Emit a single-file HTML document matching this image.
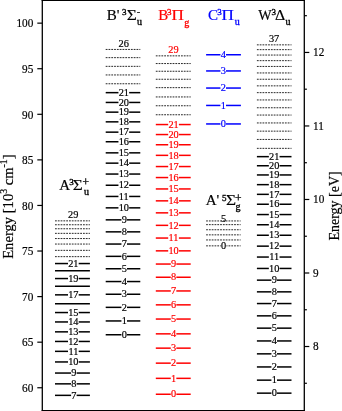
<!DOCTYPE html>
<html><head><meta charset="utf-8"><style>
html,body{margin:0;padding:0;background:#fff;}
body{width:342px;height:411px;overflow:hidden;}
svg{display:block;will-change:transform;}
text{font-family:"Liberation Serif", serif;stroke-width:0.2;}
</style></head><body>
<svg width="342" height="411" viewBox="0 0 342 411">
<g font-family='"Liberation Serif", serif' font-size="11.0">
<line x1="55.0" y1="395.35" x2="71.08" y2="395.35" stroke="#000000" stroke-width="1.5"/>
<line x1="76.62" y1="395.35" x2="89.9" y2="395.35" stroke="#000000" stroke-width="1.5"/>
<text transform="translate(73.85,398.55) scale(0.94,1)" fill="#000000" stroke="#000000" text-anchor="middle">7</text>
<line x1="55.0" y1="383.85" x2="71.08" y2="383.85" stroke="#000000" stroke-width="1.5"/>
<line x1="76.62" y1="383.85" x2="89.9" y2="383.85" stroke="#000000" stroke-width="1.5"/>
<text transform="translate(73.85,387.05) scale(0.94,1)" fill="#000000" stroke="#000000" text-anchor="middle">8</text>
<line x1="55.0" y1="373.05" x2="71.08" y2="373.05" stroke="#000000" stroke-width="1.5"/>
<line x1="76.62" y1="373.05" x2="89.9" y2="373.05" stroke="#000000" stroke-width="1.5"/>
<text transform="translate(73.85,376.25) scale(0.94,1)" fill="#000000" stroke="#000000" text-anchor="middle">9</text>
<line x1="55.0" y1="361.95" x2="68.00" y2="361.95" stroke="#000000" stroke-width="1.5"/>
<line x1="78.70" y1="361.95" x2="89.9" y2="361.95" stroke="#000000" stroke-width="1.5"/>
<text transform="translate(73.35,365.15) scale(0.94,1)" fill="#000000" stroke="#000000" text-anchor="middle">10</text>
<line x1="55.0" y1="351.35" x2="68.00" y2="351.35" stroke="#000000" stroke-width="1.5"/>
<line x1="78.70" y1="351.35" x2="89.9" y2="351.35" stroke="#000000" stroke-width="1.5"/>
<text transform="translate(73.35,354.55) scale(0.94,1)" fill="#000000" stroke="#000000" text-anchor="middle">11</text>
<line x1="55.0" y1="341.45" x2="68.00" y2="341.45" stroke="#000000" stroke-width="1.5"/>
<line x1="78.70" y1="341.45" x2="89.9" y2="341.45" stroke="#000000" stroke-width="1.5"/>
<text transform="translate(73.35,344.65) scale(0.94,1)" fill="#000000" stroke="#000000" text-anchor="middle">12</text>
<line x1="55.0" y1="331.85" x2="68.00" y2="331.85" stroke="#000000" stroke-width="1.5"/>
<line x1="78.70" y1="331.85" x2="89.9" y2="331.85" stroke="#000000" stroke-width="1.5"/>
<text transform="translate(73.35,335.05) scale(0.94,1)" fill="#000000" stroke="#000000" text-anchor="middle">13</text>
<line x1="55.0" y1="321.95" x2="68.00" y2="321.95" stroke="#000000" stroke-width="1.5"/>
<line x1="78.70" y1="321.95" x2="89.9" y2="321.95" stroke="#000000" stroke-width="1.5"/>
<text transform="translate(73.35,325.15) scale(0.94,1)" fill="#000000" stroke="#000000" text-anchor="middle">14</text>
<line x1="55.0" y1="312.55" x2="68.00" y2="312.55" stroke="#000000" stroke-width="1.5"/>
<line x1="78.70" y1="312.55" x2="89.9" y2="312.55" stroke="#000000" stroke-width="1.5"/>
<text transform="translate(73.35,315.75) scale(0.94,1)" fill="#000000" stroke="#000000" text-anchor="middle">15</text>
<line x1="55.0" y1="303.75" x2="89.9" y2="303.75" stroke="#000000" stroke-width="1.5"/>
<line x1="55.0" y1="294.85" x2="68.00" y2="294.85" stroke="#000000" stroke-width="1.5"/>
<line x1="78.70" y1="294.85" x2="89.9" y2="294.85" stroke="#000000" stroke-width="1.5"/>
<text transform="translate(73.35,298.05) scale(0.94,1)" fill="#000000" stroke="#000000" text-anchor="middle">17</text>
<line x1="55.0" y1="286.25" x2="89.9" y2="286.25" stroke="#000000" stroke-width="1.5"/>
<line x1="55.0" y1="278.55" x2="68.00" y2="278.55" stroke="#000000" stroke-width="1.5"/>
<line x1="78.70" y1="278.55" x2="89.9" y2="278.55" stroke="#000000" stroke-width="1.5"/>
<text transform="translate(73.35,281.75) scale(0.94,1)" fill="#000000" stroke="#000000" text-anchor="middle">19</text>
<line x1="55.0" y1="270.85" x2="89.9" y2="270.85" stroke="#000000" stroke-width="1.5"/>
<line x1="55.0" y1="263.55" x2="68.00" y2="263.55" stroke="#000000" stroke-width="1.5"/>
<line x1="78.70" y1="263.55" x2="89.9" y2="263.55" stroke="#000000" stroke-width="1.5"/>
<text transform="translate(73.35,266.75) scale(0.94,1)" fill="#000000" stroke="#000000" text-anchor="middle">21</text>
<line x1="55.0" y1="256.65" x2="89.9" y2="256.65" stroke="#000000" stroke-width="0.85" stroke-dasharray="1.8 1.0"/>
<line x1="55.0" y1="250.35" x2="89.9" y2="250.35" stroke="#000000" stroke-width="0.85" stroke-dasharray="1.8 1.0"/>
<line x1="55.0" y1="244.05" x2="89.9" y2="244.05" stroke="#000000" stroke-width="0.85" stroke-dasharray="1.8 1.0"/>
<line x1="55.0" y1="238.55" x2="89.9" y2="238.55" stroke="#000000" stroke-width="0.85" stroke-dasharray="1.8 1.0"/>
<line x1="55.0" y1="233.35" x2="89.9" y2="233.35" stroke="#000000" stroke-width="0.85" stroke-dasharray="1.8 1.0"/>
<line x1="55.0" y1="228.75" x2="89.9" y2="228.75" stroke="#000000" stroke-width="0.85" stroke-dasharray="1.8 1.0"/>
<line x1="55.0" y1="224.75" x2="89.9" y2="224.75" stroke="#000000" stroke-width="0.85" stroke-dasharray="1.8 1.0"/>
<line x1="55.0" y1="220.85" x2="89.9" y2="220.85" stroke="#000000" stroke-width="0.85" stroke-dasharray="1.8 1.0"/>
<text transform="translate(73.25,218.45) scale(0.94,1)" fill="#000000" stroke="#000000" text-anchor="middle">29</text>
<line x1="105.7" y1="334.75" x2="121.43" y2="334.75" stroke="#000000" stroke-width="1.5"/>
<line x1="126.97" y1="334.75" x2="140.3" y2="334.75" stroke="#000000" stroke-width="1.5"/>
<text transform="translate(124.20,337.95) scale(0.94,1)" fill="#000000" stroke="#000000" text-anchor="middle">0</text>
<line x1="105.7" y1="320.95" x2="121.43" y2="320.95" stroke="#000000" stroke-width="1.5"/>
<line x1="126.97" y1="320.95" x2="140.3" y2="320.95" stroke="#000000" stroke-width="1.5"/>
<text transform="translate(124.20,324.15) scale(0.94,1)" fill="#000000" stroke="#000000" text-anchor="middle">1</text>
<line x1="105.7" y1="307.35" x2="121.43" y2="307.35" stroke="#000000" stroke-width="1.5"/>
<line x1="126.97" y1="307.35" x2="140.3" y2="307.35" stroke="#000000" stroke-width="1.5"/>
<text transform="translate(124.20,310.55) scale(0.94,1)" fill="#000000" stroke="#000000" text-anchor="middle">2</text>
<line x1="105.7" y1="294.25" x2="121.43" y2="294.25" stroke="#000000" stroke-width="1.5"/>
<line x1="126.97" y1="294.25" x2="140.3" y2="294.25" stroke="#000000" stroke-width="1.5"/>
<text transform="translate(124.20,297.45) scale(0.94,1)" fill="#000000" stroke="#000000" text-anchor="middle">3</text>
<line x1="105.7" y1="281.55" x2="121.43" y2="281.55" stroke="#000000" stroke-width="1.5"/>
<line x1="126.97" y1="281.55" x2="140.3" y2="281.55" stroke="#000000" stroke-width="1.5"/>
<text transform="translate(124.20,284.75) scale(0.94,1)" fill="#000000" stroke="#000000" text-anchor="middle">4</text>
<line x1="105.7" y1="268.75" x2="121.43" y2="268.75" stroke="#000000" stroke-width="1.5"/>
<line x1="126.97" y1="268.75" x2="140.3" y2="268.75" stroke="#000000" stroke-width="1.5"/>
<text transform="translate(124.20,271.95) scale(0.94,1)" fill="#000000" stroke="#000000" text-anchor="middle">5</text>
<line x1="105.7" y1="256.35" x2="121.43" y2="256.35" stroke="#000000" stroke-width="1.5"/>
<line x1="126.97" y1="256.35" x2="140.3" y2="256.35" stroke="#000000" stroke-width="1.5"/>
<text transform="translate(124.20,259.55) scale(0.94,1)" fill="#000000" stroke="#000000" text-anchor="middle">6</text>
<line x1="105.7" y1="244.05" x2="121.43" y2="244.05" stroke="#000000" stroke-width="1.5"/>
<line x1="126.97" y1="244.05" x2="140.3" y2="244.05" stroke="#000000" stroke-width="1.5"/>
<text transform="translate(124.20,247.25) scale(0.94,1)" fill="#000000" stroke="#000000" text-anchor="middle">7</text>
<line x1="105.7" y1="231.85" x2="121.43" y2="231.85" stroke="#000000" stroke-width="1.5"/>
<line x1="126.97" y1="231.85" x2="140.3" y2="231.85" stroke="#000000" stroke-width="1.5"/>
<text transform="translate(124.20,235.05) scale(0.94,1)" fill="#000000" stroke="#000000" text-anchor="middle">8</text>
<line x1="105.7" y1="219.85" x2="121.43" y2="219.85" stroke="#000000" stroke-width="1.5"/>
<line x1="126.97" y1="219.85" x2="140.3" y2="219.85" stroke="#000000" stroke-width="1.5"/>
<text transform="translate(124.20,223.05) scale(0.94,1)" fill="#000000" stroke="#000000" text-anchor="middle">9</text>
<line x1="105.7" y1="207.85" x2="118.45" y2="207.85" stroke="#000000" stroke-width="1.5"/>
<line x1="129.15" y1="207.85" x2="140.3" y2="207.85" stroke="#000000" stroke-width="1.5"/>
<text transform="translate(123.80,211.05) scale(0.94,1)" fill="#000000" stroke="#000000" text-anchor="middle">10</text>
<line x1="105.7" y1="196.45" x2="118.45" y2="196.45" stroke="#000000" stroke-width="1.5"/>
<line x1="129.15" y1="196.45" x2="140.3" y2="196.45" stroke="#000000" stroke-width="1.5"/>
<text transform="translate(123.80,199.65) scale(0.94,1)" fill="#000000" stroke="#000000" text-anchor="middle">11</text>
<line x1="105.7" y1="185.25" x2="118.45" y2="185.25" stroke="#000000" stroke-width="1.5"/>
<line x1="129.15" y1="185.25" x2="140.3" y2="185.25" stroke="#000000" stroke-width="1.5"/>
<text transform="translate(123.80,188.45) scale(0.94,1)" fill="#000000" stroke="#000000" text-anchor="middle">12</text>
<line x1="105.7" y1="174.05" x2="118.45" y2="174.05" stroke="#000000" stroke-width="1.5"/>
<line x1="129.15" y1="174.05" x2="140.3" y2="174.05" stroke="#000000" stroke-width="1.5"/>
<text transform="translate(123.80,177.25) scale(0.94,1)" fill="#000000" stroke="#000000" text-anchor="middle">13</text>
<line x1="105.7" y1="163.15" x2="118.45" y2="163.15" stroke="#000000" stroke-width="1.5"/>
<line x1="129.15" y1="163.15" x2="140.3" y2="163.15" stroke="#000000" stroke-width="1.5"/>
<text transform="translate(123.80,166.35) scale(0.94,1)" fill="#000000" stroke="#000000" text-anchor="middle">14</text>
<line x1="105.7" y1="152.85" x2="118.45" y2="152.85" stroke="#000000" stroke-width="1.5"/>
<line x1="129.15" y1="152.85" x2="140.3" y2="152.85" stroke="#000000" stroke-width="1.5"/>
<text transform="translate(123.80,156.05) scale(0.94,1)" fill="#000000" stroke="#000000" text-anchor="middle">15</text>
<line x1="105.7" y1="141.75" x2="118.45" y2="141.75" stroke="#000000" stroke-width="1.5"/>
<line x1="129.15" y1="141.75" x2="140.3" y2="141.75" stroke="#000000" stroke-width="1.5"/>
<text transform="translate(123.80,144.95) scale(0.94,1)" fill="#000000" stroke="#000000" text-anchor="middle">16</text>
<line x1="105.7" y1="132.15" x2="118.45" y2="132.15" stroke="#000000" stroke-width="1.5"/>
<line x1="129.15" y1="132.15" x2="140.3" y2="132.15" stroke="#000000" stroke-width="1.5"/>
<text transform="translate(123.80,135.35) scale(0.94,1)" fill="#000000" stroke="#000000" text-anchor="middle">17</text>
<line x1="105.7" y1="121.85" x2="118.45" y2="121.85" stroke="#000000" stroke-width="1.5"/>
<line x1="129.15" y1="121.85" x2="140.3" y2="121.85" stroke="#000000" stroke-width="1.5"/>
<text transform="translate(123.80,125.05) scale(0.94,1)" fill="#000000" stroke="#000000" text-anchor="middle">18</text>
<line x1="105.7" y1="112.15" x2="118.45" y2="112.15" stroke="#000000" stroke-width="1.5"/>
<line x1="129.15" y1="112.15" x2="140.3" y2="112.15" stroke="#000000" stroke-width="1.5"/>
<text transform="translate(123.80,115.35) scale(0.94,1)" fill="#000000" stroke="#000000" text-anchor="middle">19</text>
<line x1="105.7" y1="102.45" x2="118.45" y2="102.45" stroke="#000000" stroke-width="1.5"/>
<line x1="129.15" y1="102.45" x2="140.3" y2="102.45" stroke="#000000" stroke-width="1.5"/>
<text transform="translate(123.80,105.65) scale(0.94,1)" fill="#000000" stroke="#000000" text-anchor="middle">20</text>
<line x1="105.7" y1="92.65" x2="118.45" y2="92.65" stroke="#000000" stroke-width="1.5"/>
<line x1="129.15" y1="92.65" x2="140.3" y2="92.65" stroke="#000000" stroke-width="1.5"/>
<text transform="translate(123.80,95.85) scale(0.94,1)" fill="#000000" stroke="#000000" text-anchor="middle">21</text>
<line x1="105.7" y1="83.75" x2="140.3" y2="83.75" stroke="#000000" stroke-width="0.85" stroke-dasharray="1.8 1.0"/>
<line x1="105.7" y1="74.95" x2="140.3" y2="74.95" stroke="#000000" stroke-width="0.85" stroke-dasharray="1.8 1.0"/>
<line x1="105.7" y1="66.35" x2="140.3" y2="66.35" stroke="#000000" stroke-width="0.85" stroke-dasharray="1.8 1.0"/>
<line x1="105.7" y1="57.65" x2="140.3" y2="57.65" stroke="#000000" stroke-width="0.85" stroke-dasharray="1.8 1.0"/>
<line x1="105.7" y1="49.45" x2="140.3" y2="49.45" stroke="#000000" stroke-width="0.85" stroke-dasharray="1.8 1.0"/>
<text transform="translate(123.70,47.05) scale(0.94,1)" fill="#000000" stroke="#000000" text-anchor="middle">26</text>
<line x1="155.8" y1="394.25" x2="170.78" y2="394.25" stroke="#ff0000" stroke-width="1.5"/>
<line x1="176.32" y1="394.25" x2="190.7" y2="394.25" stroke="#ff0000" stroke-width="1.5"/>
<text transform="translate(173.55,397.45) scale(0.94,1)" fill="#ff0000" stroke="#ff0000" text-anchor="middle">0</text>
<line x1="155.8" y1="378.35" x2="170.78" y2="378.35" stroke="#ff0000" stroke-width="1.5"/>
<line x1="176.32" y1="378.35" x2="190.7" y2="378.35" stroke="#ff0000" stroke-width="1.5"/>
<text transform="translate(173.55,381.55) scale(0.94,1)" fill="#ff0000" stroke="#ff0000" text-anchor="middle">1</text>
<line x1="155.8" y1="363.15" x2="170.78" y2="363.15" stroke="#ff0000" stroke-width="1.5"/>
<line x1="176.32" y1="363.15" x2="190.7" y2="363.15" stroke="#ff0000" stroke-width="1.5"/>
<text transform="translate(173.55,366.35) scale(0.94,1)" fill="#ff0000" stroke="#ff0000" text-anchor="middle">2</text>
<line x1="155.8" y1="348.15" x2="170.78" y2="348.15" stroke="#ff0000" stroke-width="1.5"/>
<line x1="176.32" y1="348.15" x2="190.7" y2="348.15" stroke="#ff0000" stroke-width="1.5"/>
<text transform="translate(173.55,351.35) scale(0.94,1)" fill="#ff0000" stroke="#ff0000" text-anchor="middle">3</text>
<line x1="155.8" y1="333.85" x2="170.78" y2="333.85" stroke="#ff0000" stroke-width="1.5"/>
<line x1="176.32" y1="333.85" x2="190.7" y2="333.85" stroke="#ff0000" stroke-width="1.5"/>
<text transform="translate(173.55,337.05) scale(0.94,1)" fill="#ff0000" stroke="#ff0000" text-anchor="middle">4</text>
<line x1="155.8" y1="319.05" x2="170.78" y2="319.05" stroke="#ff0000" stroke-width="1.5"/>
<line x1="176.32" y1="319.05" x2="190.7" y2="319.05" stroke="#ff0000" stroke-width="1.5"/>
<text transform="translate(173.55,322.25) scale(0.94,1)" fill="#ff0000" stroke="#ff0000" text-anchor="middle">5</text>
<line x1="155.8" y1="304.85" x2="170.78" y2="304.85" stroke="#ff0000" stroke-width="1.5"/>
<line x1="176.32" y1="304.85" x2="190.7" y2="304.85" stroke="#ff0000" stroke-width="1.5"/>
<text transform="translate(173.55,308.05) scale(0.94,1)" fill="#ff0000" stroke="#ff0000" text-anchor="middle">6</text>
<line x1="155.8" y1="290.95" x2="170.78" y2="290.95" stroke="#ff0000" stroke-width="1.5"/>
<line x1="176.32" y1="290.95" x2="190.7" y2="290.95" stroke="#ff0000" stroke-width="1.5"/>
<text transform="translate(173.55,294.15) scale(0.94,1)" fill="#ff0000" stroke="#ff0000" text-anchor="middle">7</text>
<line x1="155.8" y1="277.25" x2="170.78" y2="277.25" stroke="#ff0000" stroke-width="1.5"/>
<line x1="176.32" y1="277.25" x2="190.7" y2="277.25" stroke="#ff0000" stroke-width="1.5"/>
<text transform="translate(173.55,280.45) scale(0.94,1)" fill="#ff0000" stroke="#ff0000" text-anchor="middle">8</text>
<line x1="155.8" y1="264.05" x2="170.78" y2="264.05" stroke="#ff0000" stroke-width="1.5"/>
<line x1="176.32" y1="264.05" x2="190.7" y2="264.05" stroke="#ff0000" stroke-width="1.5"/>
<text transform="translate(173.55,267.25) scale(0.94,1)" fill="#ff0000" stroke="#ff0000" text-anchor="middle">9</text>
<line x1="155.8" y1="250.85" x2="168.20" y2="250.85" stroke="#ff0000" stroke-width="1.5"/>
<line x1="178.90" y1="250.85" x2="190.7" y2="250.85" stroke="#ff0000" stroke-width="1.5"/>
<text transform="translate(173.55,254.05) scale(0.94,1)" fill="#ff0000" stroke="#ff0000" text-anchor="middle">10</text>
<line x1="155.8" y1="238.05" x2="168.20" y2="238.05" stroke="#ff0000" stroke-width="1.5"/>
<line x1="178.90" y1="238.05" x2="190.7" y2="238.05" stroke="#ff0000" stroke-width="1.5"/>
<text transform="translate(173.55,241.25) scale(0.94,1)" fill="#ff0000" stroke="#ff0000" text-anchor="middle">11</text>
<line x1="155.8" y1="225.35" x2="168.20" y2="225.35" stroke="#ff0000" stroke-width="1.5"/>
<line x1="178.90" y1="225.35" x2="190.7" y2="225.35" stroke="#ff0000" stroke-width="1.5"/>
<text transform="translate(173.55,228.55) scale(0.94,1)" fill="#ff0000" stroke="#ff0000" text-anchor="middle">12</text>
<line x1="155.8" y1="212.85" x2="168.20" y2="212.85" stroke="#ff0000" stroke-width="1.5"/>
<line x1="178.90" y1="212.85" x2="190.7" y2="212.85" stroke="#ff0000" stroke-width="1.5"/>
<text transform="translate(173.55,216.05) scale(0.94,1)" fill="#ff0000" stroke="#ff0000" text-anchor="middle">13</text>
<line x1="155.8" y1="200.85" x2="168.20" y2="200.85" stroke="#ff0000" stroke-width="1.5"/>
<line x1="178.90" y1="200.85" x2="190.7" y2="200.85" stroke="#ff0000" stroke-width="1.5"/>
<text transform="translate(173.55,204.05) scale(0.94,1)" fill="#ff0000" stroke="#ff0000" text-anchor="middle">14</text>
<line x1="155.8" y1="188.95" x2="168.20" y2="188.95" stroke="#ff0000" stroke-width="1.5"/>
<line x1="178.90" y1="188.95" x2="190.7" y2="188.95" stroke="#ff0000" stroke-width="1.5"/>
<text transform="translate(173.55,192.15) scale(0.94,1)" fill="#ff0000" stroke="#ff0000" text-anchor="middle">15</text>
<line x1="155.8" y1="177.55" x2="168.20" y2="177.55" stroke="#ff0000" stroke-width="1.5"/>
<line x1="178.90" y1="177.55" x2="190.7" y2="177.55" stroke="#ff0000" stroke-width="1.5"/>
<text transform="translate(173.55,180.75) scale(0.94,1)" fill="#ff0000" stroke="#ff0000" text-anchor="middle">16</text>
<line x1="155.8" y1="166.55" x2="168.20" y2="166.55" stroke="#ff0000" stroke-width="1.5"/>
<line x1="178.90" y1="166.55" x2="190.7" y2="166.55" stroke="#ff0000" stroke-width="1.5"/>
<text transform="translate(173.55,169.75) scale(0.94,1)" fill="#ff0000" stroke="#ff0000" text-anchor="middle">17</text>
<line x1="155.8" y1="155.35" x2="168.20" y2="155.35" stroke="#ff0000" stroke-width="1.5"/>
<line x1="178.90" y1="155.35" x2="190.7" y2="155.35" stroke="#ff0000" stroke-width="1.5"/>
<text transform="translate(173.55,158.55) scale(0.94,1)" fill="#ff0000" stroke="#ff0000" text-anchor="middle">18</text>
<line x1="155.8" y1="144.75" x2="168.20" y2="144.75" stroke="#ff0000" stroke-width="1.5"/>
<line x1="178.90" y1="144.75" x2="190.7" y2="144.75" stroke="#ff0000" stroke-width="1.5"/>
<text transform="translate(173.55,147.95) scale(0.94,1)" fill="#ff0000" stroke="#ff0000" text-anchor="middle">19</text>
<line x1="155.8" y1="134.55" x2="168.20" y2="134.55" stroke="#ff0000" stroke-width="1.5"/>
<line x1="178.90" y1="134.55" x2="190.7" y2="134.55" stroke="#ff0000" stroke-width="1.5"/>
<text transform="translate(173.55,137.75) scale(0.94,1)" fill="#ff0000" stroke="#ff0000" text-anchor="middle">20</text>
<line x1="155.8" y1="124.55" x2="168.20" y2="124.55" stroke="#ff0000" stroke-width="1.5"/>
<line x1="178.90" y1="124.55" x2="190.7" y2="124.55" stroke="#ff0000" stroke-width="1.5"/>
<text transform="translate(173.55,127.75) scale(0.94,1)" fill="#ff0000" stroke="#ff0000" text-anchor="middle">21</text>
<line x1="155.8" y1="114.75" x2="190.7" y2="114.75" stroke="#000000" stroke-width="0.85" stroke-dasharray="1.8 1.0"/>
<line x1="155.8" y1="105.75" x2="190.7" y2="105.75" stroke="#000000" stroke-width="0.85" stroke-dasharray="1.8 1.0"/>
<line x1="155.8" y1="96.95" x2="190.7" y2="96.95" stroke="#000000" stroke-width="0.85" stroke-dasharray="1.8 1.0"/>
<line x1="155.8" y1="87.65" x2="190.7" y2="87.65" stroke="#000000" stroke-width="0.85" stroke-dasharray="1.8 1.0"/>
<line x1="155.8" y1="79.25" x2="190.7" y2="79.25" stroke="#000000" stroke-width="0.85" stroke-dasharray="1.8 1.0"/>
<line x1="155.8" y1="71.25" x2="190.7" y2="71.25" stroke="#000000" stroke-width="0.85" stroke-dasharray="1.8 1.0"/>
<line x1="155.8" y1="63.55" x2="190.7" y2="63.55" stroke="#000000" stroke-width="0.85" stroke-dasharray="1.8 1.0"/>
<line x1="155.8" y1="55.85" x2="190.7" y2="55.85" stroke="#000000" stroke-width="0.85" stroke-dasharray="1.8 1.0"/>
<text transform="translate(173.45,53.45) scale(0.94,1)" fill="#ff0000" stroke="#ff0000" text-anchor="middle">29</text>
<line x1="206.1" y1="123.95" x2="220.43" y2="123.95" stroke="#0000ff" stroke-width="1.5"/>
<line x1="225.97" y1="123.95" x2="240.9" y2="123.95" stroke="#0000ff" stroke-width="1.5"/>
<text transform="translate(223.20,127.15) scale(0.94,1)" fill="#0000ff" stroke="#0000ff" text-anchor="middle">0</text>
<line x1="206.1" y1="105.45" x2="220.43" y2="105.45" stroke="#0000ff" stroke-width="1.5"/>
<line x1="225.97" y1="105.45" x2="240.9" y2="105.45" stroke="#0000ff" stroke-width="1.5"/>
<text transform="translate(223.20,108.65) scale(0.94,1)" fill="#0000ff" stroke="#0000ff" text-anchor="middle">1</text>
<line x1="206.1" y1="88.05" x2="220.43" y2="88.05" stroke="#0000ff" stroke-width="1.5"/>
<line x1="225.97" y1="88.05" x2="240.9" y2="88.05" stroke="#0000ff" stroke-width="1.5"/>
<text transform="translate(223.20,91.25) scale(0.94,1)" fill="#0000ff" stroke="#0000ff" text-anchor="middle">2</text>
<line x1="206.1" y1="70.95" x2="220.43" y2="70.95" stroke="#0000ff" stroke-width="1.5"/>
<line x1="225.97" y1="70.95" x2="240.9" y2="70.95" stroke="#0000ff" stroke-width="1.5"/>
<text transform="translate(223.20,74.15) scale(0.94,1)" fill="#0000ff" stroke="#0000ff" text-anchor="middle">3</text>
<line x1="206.1" y1="54.75" x2="220.43" y2="54.75" stroke="#0000ff" stroke-width="1.5"/>
<line x1="225.97" y1="54.75" x2="240.9" y2="54.75" stroke="#0000ff" stroke-width="1.5"/>
<text transform="translate(223.20,57.95) scale(0.94,1)" fill="#0000ff" stroke="#0000ff" text-anchor="middle">4</text>
<line x1="206.1" y1="245.85" x2="240.6" y2="245.85" stroke="#000000" stroke-width="0.85" stroke-dasharray="1.8 1.0"/>
<rect x="220.88" y="244.85" width="5.54" height="2" fill="#fff"/>
<text transform="translate(223.65,249.05) scale(0.94,1)" fill="#000000" stroke="#000000" text-anchor="middle">0</text>
<line x1="206.1" y1="239.95" x2="240.6" y2="239.95" stroke="#000000" stroke-width="0.85" stroke-dasharray="1.8 1.0"/>
<line x1="206.1" y1="234.85" x2="240.6" y2="234.85" stroke="#000000" stroke-width="0.85" stroke-dasharray="1.8 1.0"/>
<line x1="206.1" y1="229.75" x2="240.6" y2="229.75" stroke="#000000" stroke-width="0.85" stroke-dasharray="1.8 1.0"/>
<line x1="206.1" y1="224.65" x2="240.6" y2="224.65" stroke="#000000" stroke-width="0.85" stroke-dasharray="1.8 1.0"/>
<line x1="206.1" y1="220.95" x2="240.6" y2="220.95" stroke="#000000" stroke-width="0.85" stroke-dasharray="1.8 1.0"/>
<text transform="translate(223.55,221.60) scale(0.94,1)" fill="#000000" stroke="#000000" text-anchor="middle">5</text>
<line x1="256.9" y1="393.15" x2="271.43" y2="393.15" stroke="#000000" stroke-width="1.5"/>
<line x1="276.97" y1="393.15" x2="291.5" y2="393.15" stroke="#000000" stroke-width="1.5"/>
<text transform="translate(274.20,396.35) scale(0.94,1)" fill="#000000" stroke="#000000" text-anchor="middle">0</text>
<line x1="256.9" y1="380.15" x2="271.43" y2="380.15" stroke="#000000" stroke-width="1.5"/>
<line x1="276.97" y1="380.15" x2="291.5" y2="380.15" stroke="#000000" stroke-width="1.5"/>
<text transform="translate(274.20,383.35) scale(0.94,1)" fill="#000000" stroke="#000000" text-anchor="middle">1</text>
<line x1="256.9" y1="366.95" x2="271.43" y2="366.95" stroke="#000000" stroke-width="1.5"/>
<line x1="276.97" y1="366.95" x2="291.5" y2="366.95" stroke="#000000" stroke-width="1.5"/>
<text transform="translate(274.20,370.15) scale(0.94,1)" fill="#000000" stroke="#000000" text-anchor="middle">2</text>
<line x1="256.9" y1="353.85" x2="271.43" y2="353.85" stroke="#000000" stroke-width="1.5"/>
<line x1="276.97" y1="353.85" x2="291.5" y2="353.85" stroke="#000000" stroke-width="1.5"/>
<text transform="translate(274.20,357.05) scale(0.94,1)" fill="#000000" stroke="#000000" text-anchor="middle">3</text>
<line x1="256.9" y1="340.95" x2="271.43" y2="340.95" stroke="#000000" stroke-width="1.5"/>
<line x1="276.97" y1="340.95" x2="291.5" y2="340.95" stroke="#000000" stroke-width="1.5"/>
<text transform="translate(274.20,344.15) scale(0.94,1)" fill="#000000" stroke="#000000" text-anchor="middle">4</text>
<line x1="256.9" y1="328.15" x2="271.43" y2="328.15" stroke="#000000" stroke-width="1.5"/>
<line x1="276.97" y1="328.15" x2="291.5" y2="328.15" stroke="#000000" stroke-width="1.5"/>
<text transform="translate(274.20,331.35) scale(0.94,1)" fill="#000000" stroke="#000000" text-anchor="middle">5</text>
<line x1="256.9" y1="315.85" x2="271.43" y2="315.85" stroke="#000000" stroke-width="1.5"/>
<line x1="276.97" y1="315.85" x2="291.5" y2="315.85" stroke="#000000" stroke-width="1.5"/>
<text transform="translate(274.20,319.05) scale(0.94,1)" fill="#000000" stroke="#000000" text-anchor="middle">6</text>
<line x1="256.9" y1="303.55" x2="271.43" y2="303.55" stroke="#000000" stroke-width="1.5"/>
<line x1="276.97" y1="303.55" x2="291.5" y2="303.55" stroke="#000000" stroke-width="1.5"/>
<text transform="translate(274.20,306.75) scale(0.94,1)" fill="#000000" stroke="#000000" text-anchor="middle">7</text>
<line x1="256.9" y1="291.85" x2="271.43" y2="291.85" stroke="#000000" stroke-width="1.5"/>
<line x1="276.97" y1="291.85" x2="291.5" y2="291.85" stroke="#000000" stroke-width="1.5"/>
<text transform="translate(274.20,295.05) scale(0.94,1)" fill="#000000" stroke="#000000" text-anchor="middle">8</text>
<line x1="256.9" y1="280.15" x2="271.43" y2="280.15" stroke="#000000" stroke-width="1.5"/>
<line x1="276.97" y1="280.15" x2="291.5" y2="280.15" stroke="#000000" stroke-width="1.5"/>
<text transform="translate(274.20,283.35) scale(0.94,1)" fill="#000000" stroke="#000000" text-anchor="middle">9</text>
<line x1="256.9" y1="268.45" x2="268.85" y2="268.45" stroke="#000000" stroke-width="1.5"/>
<line x1="279.55" y1="268.45" x2="291.5" y2="268.45" stroke="#000000" stroke-width="1.5"/>
<text transform="translate(274.20,271.65) scale(0.94,1)" fill="#000000" stroke="#000000" text-anchor="middle">10</text>
<line x1="256.9" y1="257.05" x2="268.85" y2="257.05" stroke="#000000" stroke-width="1.5"/>
<line x1="279.55" y1="257.05" x2="291.5" y2="257.05" stroke="#000000" stroke-width="1.5"/>
<text transform="translate(274.20,260.25) scale(0.94,1)" fill="#000000" stroke="#000000" text-anchor="middle">11</text>
<line x1="256.9" y1="246.15" x2="268.85" y2="246.15" stroke="#000000" stroke-width="1.5"/>
<line x1="279.55" y1="246.15" x2="291.5" y2="246.15" stroke="#000000" stroke-width="1.5"/>
<text transform="translate(274.20,249.35) scale(0.94,1)" fill="#000000" stroke="#000000" text-anchor="middle">12</text>
<line x1="256.9" y1="235.25" x2="268.85" y2="235.25" stroke="#000000" stroke-width="1.5"/>
<line x1="279.55" y1="235.25" x2="291.5" y2="235.25" stroke="#000000" stroke-width="1.5"/>
<text transform="translate(274.20,238.45) scale(0.94,1)" fill="#000000" stroke="#000000" text-anchor="middle">13</text>
<line x1="256.9" y1="224.75" x2="268.85" y2="224.75" stroke="#000000" stroke-width="1.5"/>
<line x1="279.55" y1="224.75" x2="291.5" y2="224.75" stroke="#000000" stroke-width="1.5"/>
<text transform="translate(274.20,227.95) scale(0.94,1)" fill="#000000" stroke="#000000" text-anchor="middle">14</text>
<line x1="256.9" y1="214.55" x2="268.85" y2="214.55" stroke="#000000" stroke-width="1.5"/>
<line x1="279.55" y1="214.55" x2="291.5" y2="214.55" stroke="#000000" stroke-width="1.5"/>
<text transform="translate(274.20,217.75) scale(0.94,1)" fill="#000000" stroke="#000000" text-anchor="middle">15</text>
<line x1="256.9" y1="204.25" x2="268.85" y2="204.25" stroke="#000000" stroke-width="1.5"/>
<line x1="279.55" y1="204.25" x2="291.5" y2="204.25" stroke="#000000" stroke-width="1.5"/>
<text transform="translate(274.20,207.45) scale(0.94,1)" fill="#000000" stroke="#000000" text-anchor="middle">16</text>
<line x1="256.9" y1="194.35" x2="268.85" y2="194.35" stroke="#000000" stroke-width="1.5"/>
<line x1="279.55" y1="194.35" x2="291.5" y2="194.35" stroke="#000000" stroke-width="1.5"/>
<text transform="translate(274.20,197.55) scale(0.94,1)" fill="#000000" stroke="#000000" text-anchor="middle">17</text>
<line x1="256.9" y1="184.65" x2="268.85" y2="184.65" stroke="#000000" stroke-width="1.5"/>
<line x1="279.55" y1="184.65" x2="291.5" y2="184.65" stroke="#000000" stroke-width="1.5"/>
<text transform="translate(274.20,187.85) scale(0.94,1)" fill="#000000" stroke="#000000" text-anchor="middle">18</text>
<line x1="256.9" y1="174.95" x2="268.85" y2="174.95" stroke="#000000" stroke-width="1.5"/>
<line x1="279.55" y1="174.95" x2="291.5" y2="174.95" stroke="#000000" stroke-width="1.5"/>
<text transform="translate(274.20,178.15) scale(0.94,1)" fill="#000000" stroke="#000000" text-anchor="middle">19</text>
<line x1="256.9" y1="165.75" x2="268.85" y2="165.75" stroke="#000000" stroke-width="1.5"/>
<line x1="279.55" y1="165.75" x2="291.5" y2="165.75" stroke="#000000" stroke-width="1.5"/>
<text transform="translate(274.20,168.95) scale(0.94,1)" fill="#000000" stroke="#000000" text-anchor="middle">20</text>
<line x1="256.9" y1="156.65" x2="268.85" y2="156.65" stroke="#000000" stroke-width="1.5"/>
<line x1="279.55" y1="156.65" x2="291.5" y2="156.65" stroke="#000000" stroke-width="1.5"/>
<text transform="translate(274.20,159.85) scale(0.94,1)" fill="#000000" stroke="#000000" text-anchor="middle">21</text>
<line x1="256.9" y1="148.35" x2="291.5" y2="148.35" stroke="#000000" stroke-width="0.85" stroke-dasharray="1.8 1.0"/>
<line x1="256.9" y1="139.45" x2="291.5" y2="139.45" stroke="#000000" stroke-width="0.85" stroke-dasharray="1.8 1.0"/>
<line x1="256.9" y1="131.15" x2="291.5" y2="131.15" stroke="#000000" stroke-width="0.85" stroke-dasharray="1.8 1.0"/>
<line x1="256.9" y1="122.95" x2="291.5" y2="122.95" stroke="#000000" stroke-width="0.85" stroke-dasharray="1.8 1.0"/>
<line x1="256.9" y1="115.05" x2="291.5" y2="115.05" stroke="#000000" stroke-width="0.85" stroke-dasharray="1.8 1.0"/>
<line x1="256.9" y1="107.75" x2="291.5" y2="107.75" stroke="#000000" stroke-width="0.85" stroke-dasharray="1.8 1.0"/>
<line x1="256.9" y1="99.95" x2="291.5" y2="99.95" stroke="#000000" stroke-width="0.85" stroke-dasharray="1.8 1.0"/>
<line x1="256.9" y1="92.65" x2="291.5" y2="92.65" stroke="#000000" stroke-width="0.85" stroke-dasharray="1.8 1.0"/>
<line x1="256.9" y1="85.85" x2="291.5" y2="85.85" stroke="#000000" stroke-width="0.85" stroke-dasharray="1.8 1.0"/>
<line x1="256.9" y1="79.25" x2="291.5" y2="79.25" stroke="#000000" stroke-width="0.85" stroke-dasharray="1.8 1.0"/>
<line x1="256.9" y1="72.95" x2="291.5" y2="72.95" stroke="#000000" stroke-width="0.85" stroke-dasharray="1.8 1.0"/>
<line x1="256.9" y1="66.45" x2="291.5" y2="66.45" stroke="#000000" stroke-width="0.85" stroke-dasharray="1.8 1.0"/>
<line x1="256.9" y1="60.65" x2="291.5" y2="60.65" stroke="#000000" stroke-width="0.85" stroke-dasharray="1.8 1.0"/>
<line x1="256.9" y1="55.05" x2="291.5" y2="55.05" stroke="#000000" stroke-width="0.85" stroke-dasharray="1.8 1.0"/>
<line x1="256.9" y1="49.65" x2="291.5" y2="49.65" stroke="#000000" stroke-width="0.85" stroke-dasharray="1.8 1.0"/>
<line x1="256.9" y1="44.85" x2="291.5" y2="44.85" stroke="#000000" stroke-width="0.85" stroke-dasharray="1.8 1.0"/>
<text transform="translate(274.10,42.45) scale(0.94,1)" fill="#000000" stroke="#000000" text-anchor="middle">37</text>
</g>
<g font-family='"Liberation Serif", serif'><text x="59.35" y="190.40" font-size="15.0" fill="#000" stroke="#000">A</text>
<text x="69.20" y="184.80" font-size="9.0" fill="#000" stroke="#000" style="stroke-width:0.35">3</text>
<text transform="translate(72.80,190.40) scale(1.14,1)" font-size="15.0" fill="#000" stroke="#000">Σ</text>
<text x="82.40" y="186.00" font-size="11.5" fill="#000" stroke="#000" style="stroke-width:0.35">+</text>
<text x="84.00" y="195.40" font-size="10.0" fill="#000" stroke="#000" style="stroke-width:0.35">u</text>
<text x="106.80" y="20.40" font-size="15.0" fill="#000" stroke="#000">B'</text>
<text x="122.10" y="15.00" font-size="9.0" fill="#000" stroke="#000" style="stroke-width:0.35">3</text>
<text transform="translate(126.80,20.40) scale(1.15,1)" font-size="15.0" fill="#000" stroke="#000">Σ</text>
<text x="136.90" y="14.90" font-size="9.0" fill="#000" stroke="#000" style="stroke-width:0.35">-</text>
<text x="137.00" y="24.60" font-size="10.0" fill="#000" stroke="#000" style="stroke-width:0.35">u</text>
<text x="158.20" y="20.40" font-size="15.0" fill="#ff0000" stroke="#ff0000">B</text>
<text x="167.10" y="14.90" font-size="9.0" fill="#ff0000" stroke="#ff0000" style="stroke-width:0.35">3</text>
<text transform="translate(171.60,20.40) scale(1.14,1)" font-size="15.0" fill="#ff0000" stroke="#ff0000">Π</text>
<text x="184.30" y="25.50" font-size="10.0" fill="#ff0000" stroke="#ff0000" style="stroke-width:0.35">g</text>
<text x="207.90" y="20.40" font-size="15.0" fill="#0000ff" stroke="#0000ff">C</text>
<text x="217.30" y="14.90" font-size="9.0" fill="#0000ff" stroke="#0000ff" style="stroke-width:0.35">3</text>
<text transform="translate(221.40,20.40) scale(1.14,1)" font-size="15.0" fill="#0000ff" stroke="#0000ff">Π</text>
<text x="234.70" y="24.60" font-size="10.0" fill="#0000ff" stroke="#0000ff" style="stroke-width:0.35">u</text>
<text x="205.70" y="204.60" font-size="15.0" fill="#000" stroke="#000">A'</text>
<text x="221.90" y="200.60" font-size="9.0" fill="#000" stroke="#000" style="stroke-width:0.35">5</text>
<text transform="translate(226.00,204.60) scale(1.15,1)" font-size="15.0" fill="#000" stroke="#000">Σ</text>
<text x="235.00" y="201.60" font-size="11.5" fill="#000" stroke="#000" style="stroke-width:0.35">+</text>
<text x="235.50" y="210.00" font-size="10.0" fill="#000" stroke="#000" style="stroke-width:0.35">g</text>
<text transform="translate(258.30,20.40) scale(0.95,1)" font-size="15.0" fill="#000" stroke="#000">W</text>
<text x="271.40" y="14.90" font-size="9.0" fill="#000" stroke="#000" style="stroke-width:0.35">3</text>
<text transform="translate(275.10,20.40) scale(1.05,1)" font-size="15.0" fill="#000" stroke="#000">Δ</text>
<text x="285.60" y="25.10" font-size="10.0" fill="#000" stroke="#000" style="stroke-width:0.35">u</text></g>
<g font-family='"Liberation Serif", serif' fill="#000" stroke="#000"><line x1="42.3" y1="0" x2="42.3" y2="411" stroke="#000" stroke-width="1.3"/>
<line x1="304.3" y1="0" x2="304.3" y2="411" stroke="#000" stroke-width="1.3"/>
<line x1="41.65" y1="0.55" x2="304.95" y2="0.55" stroke="#000" stroke-width="1.1"/>
<line x1="41.65" y1="410.5" x2="304.95" y2="410.5" stroke="#000" stroke-width="1.1"/>
<line x1="37.30" y1="387.75" x2="42.3" y2="387.75" stroke="#000" stroke-width="1.2"/>
<text transform="translate(33.30,392.05) scale(0.88,1)" text-anchor="end" font-size="12.8">60</text>
<line x1="37.30" y1="342.18" x2="42.3" y2="342.18" stroke="#000" stroke-width="1.2"/>
<text transform="translate(33.30,346.48) scale(0.88,1)" text-anchor="end" font-size="12.8">65</text>
<line x1="37.30" y1="296.60" x2="42.3" y2="296.60" stroke="#000" stroke-width="1.2"/>
<text transform="translate(33.30,300.90) scale(0.88,1)" text-anchor="end" font-size="12.8">70</text>
<line x1="37.30" y1="251.03" x2="42.3" y2="251.03" stroke="#000" stroke-width="1.2"/>
<text transform="translate(33.30,255.33) scale(0.88,1)" text-anchor="end" font-size="12.8">75</text>
<line x1="37.30" y1="205.45" x2="42.3" y2="205.45" stroke="#000" stroke-width="1.2"/>
<text transform="translate(33.30,209.75) scale(0.88,1)" text-anchor="end" font-size="12.8">80</text>
<line x1="37.30" y1="159.88" x2="42.3" y2="159.88" stroke="#000" stroke-width="1.2"/>
<text transform="translate(33.30,164.18) scale(0.88,1)" text-anchor="end" font-size="12.8">85</text>
<line x1="37.30" y1="114.30" x2="42.3" y2="114.30" stroke="#000" stroke-width="1.2"/>
<text transform="translate(33.30,118.60) scale(0.88,1)" text-anchor="end" font-size="12.8">90</text>
<line x1="37.30" y1="68.72" x2="42.3" y2="68.72" stroke="#000" stroke-width="1.2"/>
<text transform="translate(33.30,73.02) scale(0.88,1)" text-anchor="end" font-size="12.8">95</text>
<line x1="37.30" y1="23.15" x2="42.3" y2="23.15" stroke="#000" stroke-width="1.2"/>
<text transform="translate(33.30,27.45) scale(0.88,1)" text-anchor="end" font-size="12.8">100</text>
<line x1="304.3" y1="383.27" x2="306.90" y2="383.27" stroke="#000" stroke-width="1.2"/>
<line x1="304.3" y1="346.51" x2="309.30" y2="346.51" stroke="#000" stroke-width="1.2"/>
<text transform="translate(313.10,350.21) scale(0.88,1)" font-size="12.8">8</text>
<line x1="304.3" y1="309.76" x2="306.90" y2="309.76" stroke="#000" stroke-width="1.2"/>
<line x1="304.3" y1="273.00" x2="309.30" y2="273.00" stroke="#000" stroke-width="1.2"/>
<text transform="translate(313.10,276.70) scale(0.88,1)" font-size="12.8">9</text>
<line x1="304.3" y1="236.24" x2="306.90" y2="236.24" stroke="#000" stroke-width="1.2"/>
<line x1="304.3" y1="199.48" x2="309.30" y2="199.48" stroke="#000" stroke-width="1.2"/>
<text transform="translate(313.10,203.18) scale(0.88,1)" font-size="12.8">10</text>
<line x1="304.3" y1="162.72" x2="306.90" y2="162.72" stroke="#000" stroke-width="1.2"/>
<line x1="304.3" y1="125.96" x2="309.30" y2="125.96" stroke="#000" stroke-width="1.2"/>
<text transform="translate(313.10,129.66) scale(0.88,1)" font-size="12.8">11</text>
<line x1="304.3" y1="89.20" x2="306.90" y2="89.20" stroke="#000" stroke-width="1.2"/>
<line x1="304.3" y1="52.45" x2="309.30" y2="52.45" stroke="#000" stroke-width="1.2"/>
<text transform="translate(313.10,56.15) scale(0.88,1)" font-size="12.8">12</text>
<line x1="304.3" y1="15.69" x2="306.90" y2="15.69" stroke="#000" stroke-width="1.2"/>
<text transform="translate(12.8,258.8) rotate(-90)" font-size="14.6">Energy [10<tspan font-size="9.8" dy="-5.5">3</tspan><tspan dy="5.5"> cm</tspan><tspan font-size="9.8" dy="-5.5">-1</tspan><tspan dy="5.5">]</tspan></text>
<text transform="translate(339.0,240.6) rotate(-90)" font-size="14.0">Energy [eV]</text></g>
</svg>
</body></html>
